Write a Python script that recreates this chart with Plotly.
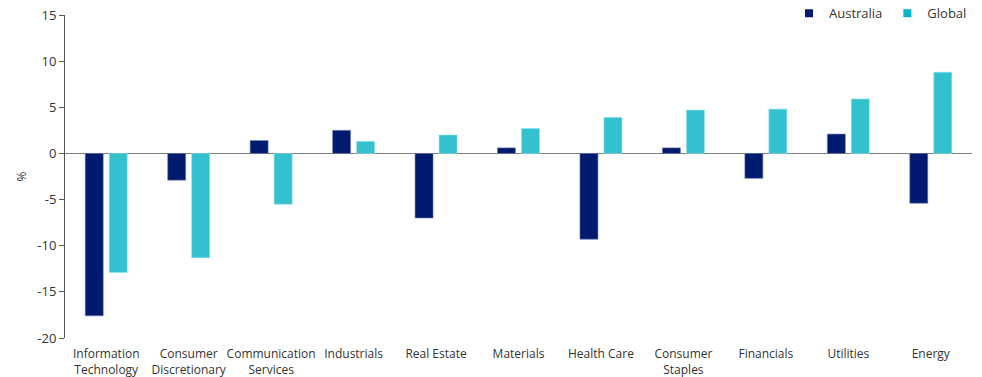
import plotly.graph_objects as go

# Sector returns (%)
sectors = [
    "Information<br>Technology", "Consumer<br>Discretionary", "Communication<br>Services",
    "Industrials", "Real Estate", "Materials", "Health Care", "Consumer<br>Staples",
    "Financials", "Utilities", "Energy",
]
australia = [-17.6, -2.9, 1.4, 2.5, -7.0, 0.6, -9.3, 0.6, -2.7, 2.1, -5.4]
global_ = [-12.9, -11.3, -5.5, 1.3, 2.0, 2.7, 3.9, 4.7, 4.8, 5.9, 8.8]

y_ticks = [15, 10, 5, 0, -5, -10, -15, -20]

AUS_COLOR = "#001A70"
GLOBAL_COLOR = "#33C1CF"
TEXT_COLOR = "#333333"

fig = go.Figure()
fig.add_trace(go.Bar(
    name="Australia", x=sectors, y=australia, showlegend=False,
    marker=dict(color=AUS_COLOR, line=dict(color="#6f7fb0", width=0.6)),
))
fig.add_trace(go.Bar(
    name="Global", x=sectors, y=global_, showlegend=False,
    marker=dict(color=GLOBAL_COLOR, line=dict(color="#8fe0ea", width=0.6)),
))

# Small square legend keys
for name, color in [("Australia", AUS_COLOR), ("Global", "#00B5C8")]:
    fig.add_trace(go.Scatter(
        name=name, x=[None], y=[None], mode="markers",
        marker=dict(symbol="square", size=8, color=color),
    ))

fig.update_layout(
    width=982, height=377,
    margin=dict(l=65, r=10, t=15, b=39, autoexpand=False),
    paper_bgcolor="white", plot_bgcolor="white",
    barmode="group", bargap=0.418, bargroupgap=0.25,
    font=dict(family="Open Sans", size=12, color=TEXT_COLOR),
    legend=dict(
        orientation="h", x=1.0, xanchor="right", y=1.005, yanchor="middle",
        font=dict(size=13, color=TEXT_COLOR), itemwidth=30,
        traceorder="normal", bgcolor="rgba(0,0,0,0)",
    ),
    showlegend=True,
)

fig.update_xaxes(
    showline=False, showgrid=False, zeroline=False, ticks="",
    tickangle=0, automargin=False, ticklabelstandoff=7,
    tickfont=dict(size=12, color=TEXT_COLOR),
)
fig.update_yaxes(
    range=[-20, 15], tickvals=y_ticks, ticktext=[str(v) for v in y_ticks],
    showgrid=False, showline=True, linecolor="#555555", linewidth=1,
    ticks="outside", ticklen=5, tickcolor="#555555",
    zeroline=True, zerolinecolor="#7f7f7f", zerolinewidth=1,
    tickfont=dict(size=13, color=TEXT_COLOR), automargin=False,
    title=dict(text="%", font=dict(size=12, color=TEXT_COLOR), standoff=8),
)

fig.write_html("out.html")
